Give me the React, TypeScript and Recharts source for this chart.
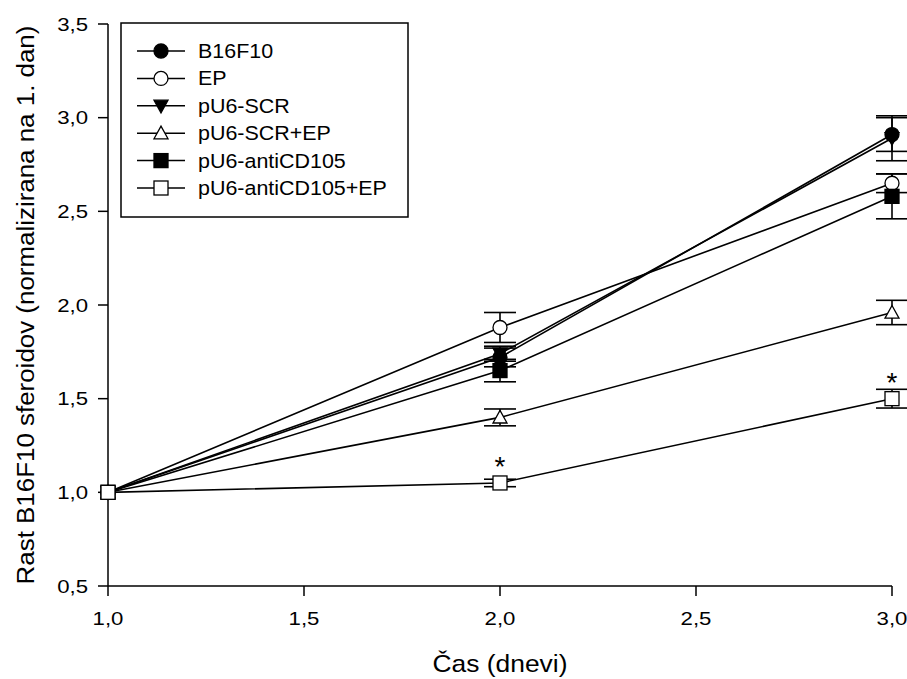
import React from 'react';
import { LineChart, Line, XAxis, YAxis, ErrorBar, Legend, ReferenceDot, Label } from 'recharts';

const days = [1, 2, 3];
const seriesNames = ['B16F10', 'EP', 'pU6-SCR', 'pU6-SCR+EP', 'pU6-antiCD105', 'pU6-antiCD105+EP'];
const b16f10 = [1.0, 1.72, 2.91];
const b16f10Err = [0, 0.05, 0.09];
const ep = [1.0, 1.88, 2.65];
const epErr = [0, 0.08, 0.05];
const scr = [1.0, 1.74, 2.89];
const scrErr = [0, 0.04, 0.12];
const scrEp = [1.0, 1.4, 1.96];
const scrEpErr = [0, 0.045, 0.065];
const anti = [1.0, 1.65, 2.58];
const antiErr = [0, 0.06, 0.12];
const antiEp = [1.0, 1.05, 1.5];
const antiEpErr = [0, 0.02, 0.05];
const starDays = [2, 3];
const starValues = [1.05, 1.5];
const xTicks = [1, 1.5, 2, 2.5, 3];
const yTicks = [0.5, 1, 1.5, 2, 2.5, 3, 3.5];
const xTitle = 'Čas (dnevi)';
const yTitle = 'Rast B16F10 sferoidov (normalizirana na 1. dan)';

const keys = ['b16', 'ep', 'scr', 'scrEp', 'anti', 'antiEp'];
const values = [b16f10, ep, scr, scrEp, anti, antiEp];
const errs = [b16f10Err, epErr, scrErr, scrEpErr, antiErr, antiEpErr];
const shapes = ['circle', 'circle', 'triDown', 'triUp', 'square', 'square'];
const fills = ['#000', '#fff', '#000', '#fff', '#000', '#fff'];

const data = days.map((d, i) => {
  const row: any = { day: d };
  keys.forEach((k, j) => {
    row[k] = values[j][i];
    row[k + 'Err'] = errs[j][i];
  });
  return row;
});

const FONT = 'Liberation Sans, Arial, sans-serif';
const fmt = (v: number) => v.toFixed(1).replace('.', ',');

function Marker({ shape, fill, cx, cy }: any) {
  const s = 7;
  if (shape === 'circle') return <circle cx={cx} cy={cy} r={s} fill={fill} stroke="#000" strokeWidth={1.3} />;
  if (shape === 'square') return <rect x={cx - s} y={cy - s} width={2 * s} height={2 * s} fill={fill} stroke="#000" strokeWidth={1.3} />;
  if (shape === 'triDown')
    return <polygon points={`${cx - s},${cy - s * 0.8} ${cx + s},${cy - s * 0.8} ${cx},${cy + s}`} fill={fill} stroke="#000" strokeWidth={1.3} />;
  return <polygon points={`${cx - s},${cy + s * 0.8} ${cx + s},${cy + s * 0.8} ${cx},${cy - s}`} fill={fill} stroke="#000" strokeWidth={1.3} />;
}

const renderLegend = () => (
  <svg width={290} height={197} style={{ display: 'block' }}>
    <rect x={1} y={1} width={287} height={194} fill="#fff" stroke="#000" strokeWidth={1.5} />
    {seriesNames.map((n, i) => {
      const y = 29 + i * 27.4;
      return (
        <g key={n}>
          <line x1={17} x2={65} y1={y} y2={y} stroke="#000" strokeWidth={1.5} />
          <Marker shape={shapes[i]} fill={fills[i]} cx={41} cy={y} />
          <g transform={`translate(78,${y + 7}) scale(1.1,1)`}>
            <text x={0} y={0} fontSize={19.5} fontFamily={FONT} fill="#000">{n}</text>
          </g>
        </g>
      );
    })}
  </svg>
);

const XTick = (p: any) => (
  <g transform={`translate(${p.x},${p.y + 13.4})`}>
    <text transform="scale(1.2,1)" textAnchor="middle" fontSize={18.5} fontFamily={FONT} fill="#000">
      {fmt(p.payload.value)}
    </text>
  </g>
);

const YTick = (p: any) => (
  <g transform={`translate(${p.x},${p.y + 6.7})`}>
    <text transform="scale(1.2,1)" textAnchor="end" fontSize={18.5} fontFamily={FONT} fill="#000">
      {fmt(p.payload.value)}
    </text>
  </g>
);

export default function App() {
  return (
    <div style={{ position: 'absolute', left: 0, top: 0, background: '#fff' }}>
      <LineChart width={907} height={679} data={data} margin={{ top: 24, right: 15, bottom: 0, left: 0 }}>
        <XAxis
          dataKey="day"
          type="number"
          domain={[1, 3]}
          ticks={xTicks}
          height={93}
          tickSize={10}
          tickMargin={16}
          stroke="#000"
          strokeWidth={1.5}
          tick={XTick}
        >
          <Label
            content={(p: any) => (
              <g transform={`translate(${p.viewBox.x + p.viewBox.width / 2},672) scale(1.1,1)`}>
                <text textAnchor="middle" fontSize={24} fontFamily={FONT} fill="#000">{xTitle}</text>
              </g>
            )}
          />
        </XAxis>
        <YAxis
          type="number"
          domain={[0.5, 3.5]}
          ticks={yTicks}
          width={108}
          tickSize={10}
          tickMargin={10}
          stroke="#000"
          strokeWidth={1.5}
          tick={YTick}
        >
          <Label
            content={(p: any) => (
              <g transform={`translate(34,${p.viewBox.y + p.viewBox.height / 2}) rotate(-90) scale(1.08,1)`}>
                <text textAnchor="middle" fontSize={24} fontFamily={FONT} fill="#000">{yTitle}</text>
              </g>
            )}
          />
        </YAxis>
        <Legend
          layout="vertical"
          verticalAlign="middle"
          align="center"
          content={renderLegend}
          wrapperStyle={{ left: 120, top: 22, width: 290, height: 197 }}
        />
        {keys.map((k, i) => (
          <Line
            key={k}
            dataKey={k}
            name={seriesNames[i]}
            stroke="#000"
            strokeWidth={1.6}
            isAnimationActive={false}
            legendType="none"
            dot={(p: any) => <Marker key={`${k}-${p.index}`} shape={shapes[i]} fill={fills[i]} cx={p.cx} cy={p.cy} />}
            activeDot={false}
          >
            <ErrorBar dataKey={k + 'Err'} direction="y" width={16} stroke="#000" strokeWidth={1.6} />
          </Line>
        ))}
        {starDays.map((d, i) => (
          <ReferenceDot
            key={`star-${i}`}
            x={d}
            y={starValues[i]}
            r={0}
            shape={(p: any) => (
              <text x={p.cx} y={p.cy - 7} textAnchor="middle" fontSize={28} fontFamily={FONT} fill="#000">*</text>
            )}
          />
        ))}
      </LineChart>
    </div>
  );
}
